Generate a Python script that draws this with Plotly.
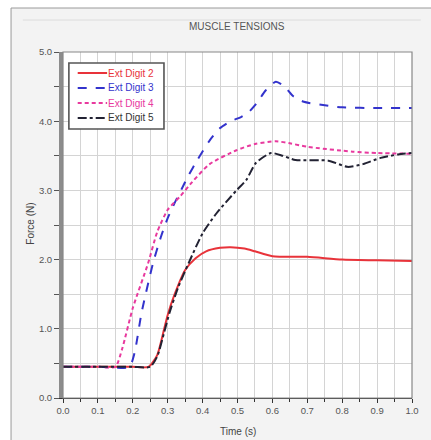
import plotly.graph_objects as go

# Data
t_d2 = [0.0, 0.1, 0.2, 0.245, 0.27, 0.29, 0.30, 0.32, 0.35, 0.38, 0.41, 0.45, 0.48, 0.52, 0.55, 0.60, 0.70, 0.80, 0.90, 1.0]
f_d2 = [0.45, 0.45, 0.45, 0.45, 0.62, 1.0, 1.2, 1.5, 1.85, 2.02, 2.12, 2.17, 2.18, 2.16, 2.12, 2.05, 2.04, 2.0, 1.99, 1.98]

t_d3 = [0.0, 0.1, 0.19, 0.205, 0.225, 0.258, 0.28, 0.30, 0.32, 0.34, 0.36, 0.385, 0.42, 0.45, 0.48, 0.51, 0.53, 0.555, 0.58, 0.61, 0.635, 0.66, 0.69, 0.75, 0.80, 0.90, 1.0]
f_d3 = [0.45, 0.45, 0.45, 0.65, 1.23, 1.95, 2.32, 2.6, 2.82, 3.02, 3.22, 3.44, 3.72, 3.9, 4.0, 4.06, 4.12, 4.26, 4.44, 4.57, 4.5, 4.36, 4.28, 4.23, 4.2, 4.19, 4.19]

t_d4 = [0.0, 0.1, 0.15, 0.17, 0.20, 0.244, 0.27, 0.30, 0.337, 0.37, 0.42, 0.497, 0.55, 0.61, 0.65, 0.70, 0.83, 0.90, 1.0]
f_d4 = [0.45, 0.45, 0.45, 0.72, 1.3, 1.95, 2.4, 2.72, 2.92, 3.12, 3.38, 3.58, 3.67, 3.71, 3.68, 3.63, 3.56, 3.54, 3.53]

t_d5 = [0.0, 0.1, 0.2, 0.25, 0.27, 0.29, 0.305, 0.33, 0.36, 0.40, 0.44, 0.497, 0.525, 0.553, 0.596, 0.63, 0.666, 0.76, 0.815, 0.86, 0.91, 0.96, 1.0]
f_d5 = [0.45, 0.45, 0.45, 0.45, 0.6, 0.95, 1.23, 1.6, 1.95, 2.38, 2.67, 3.0, 3.15, 3.4, 3.54, 3.5, 3.44, 3.43, 3.34, 3.38, 3.47, 3.52, 3.54]

names = ["Ext Digit 2", "Ext Digit 3", "Ext Digit 4", "Ext Digit 5"]
colors = ["#e8333a", "#3333cc", "#e8399e", "#222233"]
text_colors = ["#e8333a", "#3333cc", "#e8399e", "#333333"]
dashes = ["solid", "dash", "4px,3px", "dashdot"]

x_ticks = [0.0, 0.1, 0.2, 0.3, 0.4, 0.5, 0.6, 0.7, 0.8, 0.9, 1.0]
y_ticks = [0.0, 1.0, 2.0, 3.0, 4.0, 5.0]

series = [(t_d2, f_d2), (t_d3, f_d3), (t_d4, f_d4), (t_d5, f_d5)]

fig = go.Figure()
for (tx, fy), nm, c, d in zip(series, names, colors, dashes):
    fig.add_trace(go.Scatter(
        x=tx, y=fy, mode="lines", name=nm,
        line=dict(color=c, width=2, dash=d, shape="spline", smoothing=0.6),
    ))

font_family = "Liberation Sans, Arial, sans-serif"

fig.update_layout(
    width=431, height=440,
    margin=dict(l=63, r=12, t=52, b=42),
    paper_bgcolor="#f3f3f3",
    plot_bgcolor="#ffffff",
    font=dict(family=font_family, size=9, color="#555555"),
    showlegend=False,
    xaxis=dict(range=[0, 1.0], tickvals=x_ticks, ticktext=[f"{v:.1f}" for v in x_ticks],
               showgrid=False, zeroline=False,
               showline=True, linecolor="#333333", linewidth=1,
               ticks="outside", ticklen=4, tickcolor="#333333",
               tickfont=dict(size=9.5, color="#555555"),
               minor=dict(dtick=0.05, showgrid=True, gridcolor="#d4d4d4", gridwidth=1,
                          ticks="outside", ticklen=3, tickcolor="#333333"),
               fixedrange=True),
    yaxis=dict(range=[0, 5.0], tickvals=y_ticks, ticktext=[f"{v:.1f}" for v in y_ticks],
               showgrid=False, zeroline=False,
               showline=True, linecolor="#8c8c8c", linewidth=4,
               ticks="outside", ticklen=5, tickcolor="#555555",
               tickfont=dict(size=9.5, color="#555555"),
               minor=dict(dtick=0.5, showgrid=True, gridcolor="#d4d4d4", gridwidth=1,
                          ticks="outside", ticklen=5, tickcolor="#555555"),
               fixedrange=True),
)

# pixel -> paper helpers
def px(p):
    return (p - 63) / 356.0

def py(q):
    return (398 - q) / 346.0

shapes = [
    # white areas outside the outer panel
    dict(type="rect", xref="paper", yref="paper", x0=-0.3, x1=px(10), y0=-0.3, y1=1.3,
         fillcolor="#ffffff", line=dict(width=0), layer="below"),
    dict(type="rect", xref="paper", yref="paper", x0=-0.3, x1=1.2, y0=py(8), y1=1.3,
         fillcolor="#ffffff", line=dict(width=0), layer="below"),
    # outer panel border
    dict(type="line", xref="paper", yref="paper", x0=px(10), x1=px(10), y0=-0.3, y1=py(8),
         line=dict(color="#9a9a9a", width=1)),
    dict(type="line", xref="paper", yref="paper", x0=px(10), x1=1.2, y0=py(8), y1=py(8),
         line=dict(color="#9a9a9a", width=1)),
    # inner header line
    dict(type="line", xref="paper", yref="paper", x0=px(22), x1=px(428), y0=py(20), y1=py(20),
         line=dict(color="#dcdcdc", width=1)),
    # plot frame
    dict(type="rect", xref="paper", yref="paper", x0=0, x1=1, y0=0, y1=1,
         line=dict(color="#888888", width=1.2), layer="above"),
    # legend box
    dict(type="rect", xref="paper", yref="paper", x0=px(69), x1=px(166), y0=py(129), y1=py(63),
         fillcolor="#ffffff", line=dict(color="#555555", width=1.6), layer="above"),
]

row_y = [73, 88, 103, 118]
for nm, c, tc, d, ry in zip(names, colors, text_colors, dashes, row_y):
    shapes.append(dict(type="line", xref="paper", yref="paper", x0=px(78), x1=px(108),
                       y0=py(ry), y1=py(ry), line=dict(color=c, width=2, dash=d), layer="above"))
    fig.add_annotation(text=nm, xref="paper", yref="paper", x=px(107), y=py(ry),
                       showarrow=False, xanchor="left", yanchor="middle",
                       font=dict(size=10, color=tc))

fig.update_layout(shapes=shapes)

fig.add_annotation(text="MUSCLE TENSIONS", xref="paper", yref="paper", x=px(240), y=py(27),
                   showarrow=False, font=dict(size=10, color="#555555"), xanchor="center", yanchor="middle")
fig.add_annotation(text="Time (s)", xref="paper", yref="paper", x=px(241), y=py(431),
                   showarrow=False, font=dict(size=10, color="#444444"), xanchor="center", yanchor="middle")
fig.add_annotation(text="Force (N)", xref="paper", yref="paper", x=px(29), y=py(224),
                   showarrow=False, textangle=-90, font=dict(size=10, color="#444444"),
                   xanchor="center", yanchor="middle")

fig.write_html("out.html", config={"displayModeBar": False},
               post_script="document.body.style.margin='0';document.documentElement.style.margin='0';")
